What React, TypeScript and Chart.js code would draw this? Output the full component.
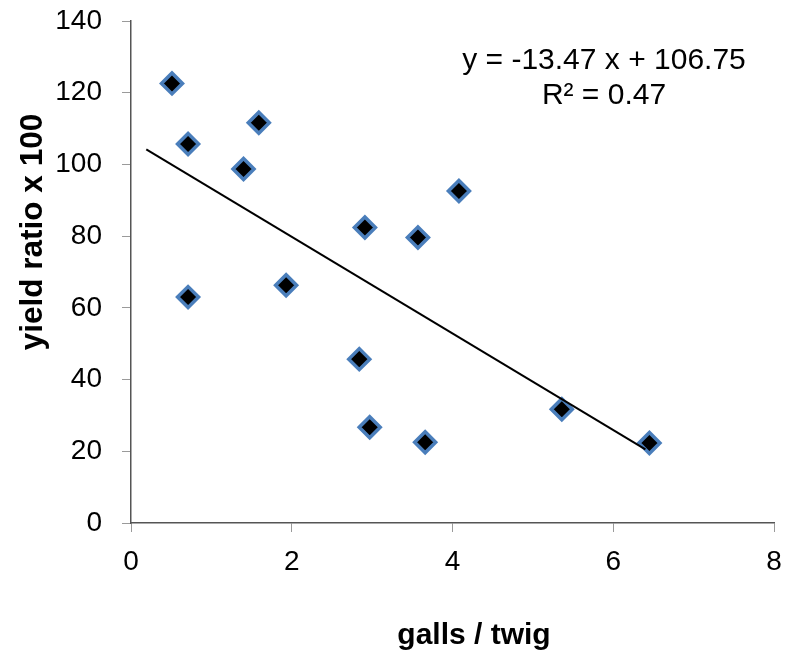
import { useEffect, useRef } from 'react';
import { Chart, registerables } from 'chart.js';

Chart.register(...registerables);

// ---- data ----
const gallsPerTwig = [0.51, 0.71, 0.71, 1.4, 1.59, 1.93, 2.84, 2.91, 2.97, 3.57, 3.66, 4.08, 5.36, 6.45];
const yieldRatio = [122.6, 105.7, 63.0, 98.7, 111.6, 66.3, 45.7, 82.4, 26.7, 79.6, 22.5, 92.6, 31.7, 22.3];

// linear trendline as printed on the chart
const trendSlope = -13.47;
const trendIntercept = 106.75;
const trendXStart = 0.19;
const trendXEnd = 6.4;

const xTickValues = [0, 2, 4, 6, 8];
const yTickValues = [0, 20, 40, 60, 80, 100, 120, 140];

const xAxisTitle = 'galls / twig';
const yAxisTitle = 'yield ratio x 100';
const equationLines = ['y = -13.47 x + 106.75', 'R² = 0.47'];

const FONT = '"Liberation Sans", Arial, sans-serif';

const annotationPlugin = {
  id: 'annotations',
  afterDraw(chart: any) {
    const ctx = chart.ctx as CanvasRenderingContext2D;
    ctx.save();
    ctx.fillStyle = '#000';
    // y axis title
    ctx.save();
    ctx.translate(33, 232);
    ctx.rotate(-Math.PI / 2);
    ctx.font = `bold 31.5px ${FONT}`;
    ctx.textAlign = 'center';
    ctx.textBaseline = 'middle';
    ctx.fillText(yAxisTitle, 0, 0);
    ctx.restore();
    // x axis title
    ctx.font = `bold 30px ${FONT}`;
    ctx.textAlign = 'center';
    ctx.textBaseline = 'middle';
    ctx.fillText(xAxisTitle, 474, 636);
    // equation
    ctx.font = `30px ${FONT}`;
    ctx.fillText(equationLines[0], 604, 61);
    ctx.fillText(equationLines[1], 604, 96);
    ctx.restore();
  },
};

export default function App() {
  const canvasRef = useRef<HTMLCanvasElement | null>(null);

  useEffect(() => {
    const canvas = canvasRef.current;
    if (!canvas) return;
    const scatterData = gallsPerTwig.map((x, i) => ({ x, y: yieldRatio[i] }));
    const trendData = [trendXStart, trendXEnd].map((x) => ({ x, y: trendSlope * x + trendIntercept }));

    const chart = new Chart(canvas, {
      type: 'scatter',
      data: {
        datasets: [
          {
            type: 'line',
            label: 'trend',
            data: trendData,
            borderColor: '#000',
            borderWidth: 2,
            pointRadius: 0,
            fill: false,
            order: 0,
          } as any,
          {
            label: 'yield',
            data: scatterData,
            pointStyle: 'rectRot',
            pointRadius: 10.5,
            pointHoverRadius: 10.5,
            backgroundColor: '#000',
            borderColor: '#4a7ebb',
            borderWidth: 3.5,
            order: 1,
          },
        ],
      },
      options: {
        responsive: false,
        animation: false,
        events: [],
        layout: { padding: { top: 21, right: 0, left: 0, bottom: 0 } },
        plugins: {
          legend: { display: false },
          tooltip: { enabled: false },
          title: { display: false },
        },
        scales: {
          x: {
            type: 'linear',
            min: 0,
            max: 8,
            afterBuildTicks: (axis: any) => {
              axis.ticks = xTickValues.map((v) => ({ value: v }));
            },
            afterFit: (axis: any) => {
              axis.height = 134;
              axis.paddingLeft = 0;
              axis.paddingRight = 10;
            },
            grid: {
              display: true,
              drawOnChartArea: false,
              drawTicks: true,
              tickLength: 9,
              color: '#9a9a9a',
            },
            border: { display: true, color: '#555', width: 1.5 },
            ticks: {
              color: '#000',
              padding: 13,
              font: { family: FONT, size: 28 },
              maxRotation: 0,
            },
          },
          y: {
            type: 'linear',
            min: 0,
            max: 140,
            afterBuildTicks: (axis: any) => {
              axis.ticks = yTickValues.map((v) => ({ value: v }));
            },
            afterFit: (axis: any) => {
              axis.width = 131;
              axis.paddingTop = 0;
              axis.paddingBottom = 0;
            },
            grid: {
              display: true,
              drawOnChartArea: false,
              drawTicks: true,
              tickLength: 9,
              color: '#9a9a9a',
            },
            border: { display: true, color: '#555', width: 1.5 },
            ticks: {
              color: '#000',
              padding: 20,
              font: { family: FONT, size: 28 },
            },
          },
        },
      },
      plugins: [annotationPlugin],
    });
    return () => chart.destroy();
  }, []);

  return (
    <div style={{ position: 'fixed', left: 0, top: 0, width: 788, height: 657, background: '#fff' }}>
      <canvas ref={canvasRef} width={788} height={657} style={{ display: 'block' }} />
    </div>
  );
}
